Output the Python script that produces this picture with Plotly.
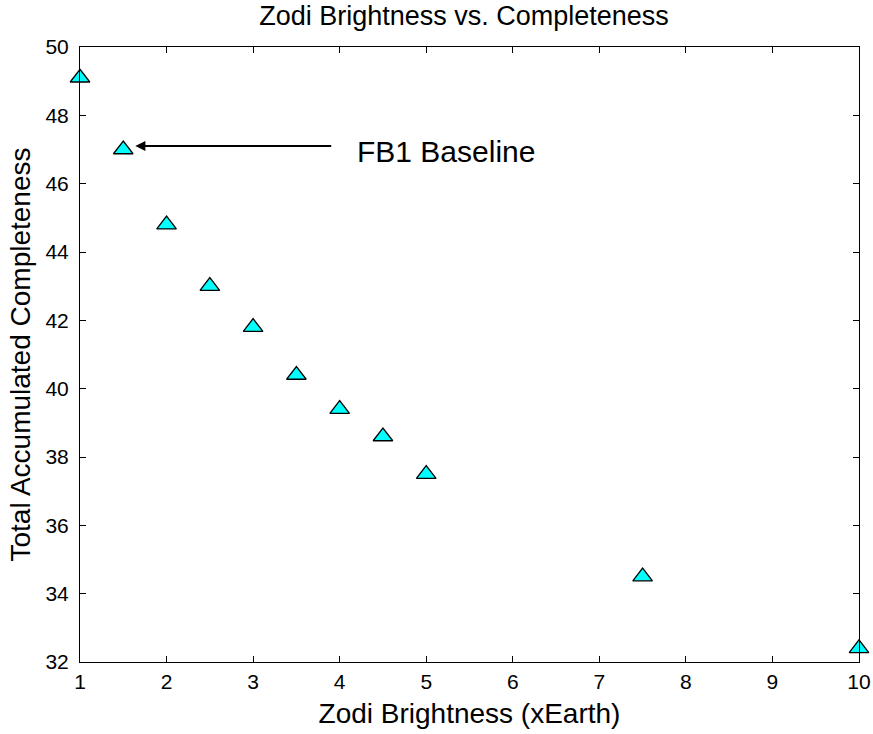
import plotly.graph_objects as go

zodi_brightness = [1, 1.5, 2, 2.5, 3, 3.5, 4, 4.5, 5, 7.5, 10]
completeness = [49.1, 47.0, 44.8, 43.0, 41.8, 40.4, 39.4, 38.6, 37.5, 34.5, 32.4]
x_ticks = [1, 2, 3, 4, 5, 6, 7, 8, 9, 10]
y_ticks = [32, 34, 36, 38, 40, 42, 44, 46, 48, 50]

FONT = "Arial, Liberation Sans, Helvetica, sans-serif"

fig = go.Figure()
fig.add_trace(go.Scatter(
    x=zodi_brightness, y=completeness, mode="markers",
    marker=dict(symbol="triangle-up", size=17, color="#00ffff",
                line=dict(color="black", width=1.3)),
    cliponaxis=False, showlegend=False,
))

# arrow
fig.add_annotation(x=1.64, y=47.1, ax=3.92, ay=47.1, xref="x", yref="y",
                   axref="x", ayref="y", text="", showarrow=True,
                   arrowhead=2, arrowsize=1.0, arrowwidth=2, arrowcolor="black")
fig.add_annotation(x=4.18, y=46.95, xref="x", yref="y", text="FB1 Baseline",
                   showarrow=False, xanchor="left", yanchor="middle",
                   font=dict(family=FONT, size=30, color="black"))

axis_common = dict(showgrid=False, zeroline=False, showline=True, linecolor="black",
                   linewidth=1, mirror="ticks", ticks="inside", ticklen=6,
                   tickcolor="black", automargin=False,
                   tickfont=dict(family=FONT, size=21, color="black"),
                   title_font=dict(family=FONT, size=28, color="black"))

fig.update_xaxes(range=[1, 10], tickvals=x_ticks, title_text="Zodi Brightness (xEarth)",
                 title_standoff=11, ticklabelstandoff=1, **axis_common)
fig.update_yaxes(range=[32, 50], tickvals=y_ticks, title_text="Total Accumulated Completeness",
                 title_standoff=6, ticklabelstandoff=6, **axis_common)

fig.update_layout(
    width=873, height=734,
    margin=dict(l=80, r=14, t=47, b=72),
    plot_bgcolor="white", paper_bgcolor="white",
    title=dict(text="Zodi Brightness vs. Completeness", x=464 / 873, xanchor="center",
               xref="container", y=0.979, yanchor="middle",
               font=dict(family=FONT, size=27, color="black")),
)

fig.write_html("out.html")
